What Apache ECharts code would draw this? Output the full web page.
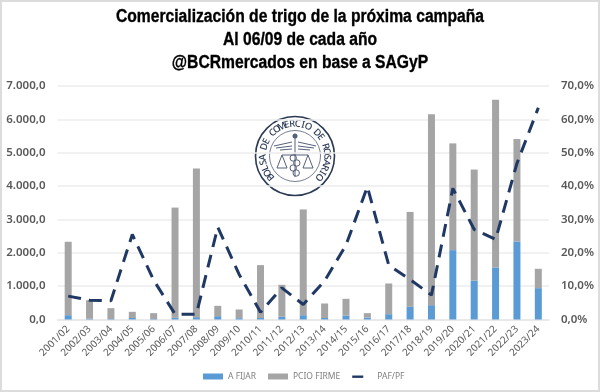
<!DOCTYPE html>
<html><head><meta charset="utf-8">
<style>html,body{margin:0;padding:0;background:#fff}#c{width:600px;height:392px}</style>
<script src="https://cdn.jsdelivr.net/npm/echarts@6/dist/echarts.min.js"></script>
</head><body><div id="c"></div>
<script>
const categories=["2001/02","2002/03","2003/04","2004/05","2005/06","2006/07","2007/08","2008/09","2009/10","2010/11","2011/12","2012/13","2013/14","2014/15","2015/16","2016/17","2017/18","2018/19","2019/20","2020/21","2021/22","2022/23","2023/24"];
const aFijar=[130,20,15,45,15,50,70,100,40,45,85,130,45,120,60,160,380,430,2080,1170,1560,2340,940];
const pcioFirme=[2200,560,325,185,175,3305,4455,310,260,1585,955,3170,435,500,130,920,2845,5720,3200,3325,5030,3070,580];
const pafPf=[7.0,5.8,5.6,25.5,11.8,1.6,1.6,27.7,13.5,2.2,9.5,4.5,11.6,22.3,39.8,16.3,12.0,7.3,39.3,27.0,24.0,46.8,63.5];
const titleLines=["Comercialización de trigo de la próxima campaña","Al 06/09 de cada año","@BCRmercados en base a SAGyP"];
const sealText="BOLSA DE COMERCIO DE ROSARIO";

const navy="#1F3864", tick="#595959", font="'Noto Sans',sans-serif";
const seal=[];
const cx=295,cy=156;
seal.push({type:'circle',shape:{cx,cy,r:39.5},style:{fill:'#fff',stroke:'#2b3a55',lineWidth:1.6},silent:true});
seal.push({type:'circle',shape:{cx,cy,r:25.5},style:{fill:'none',stroke:'#55607a',lineWidth:.8},silent:true});
[...sealText].forEach((ch,i)=>{
  const a=(-131+262*i/(sealText.length-1))*Math.PI/180;
  seal.push({type:'text',x:cx+32*Math.sin(a),y:cy-32*Math.cos(a),rotation:-a,silent:true,
    style:{text:ch,fill:'#2b3a55',font:"500 9.5px 'Noto Sans',sans-serif",align:'center',verticalAlign:'middle'}});
});
[[cx-21,cy-10,cx-3,cy-14],[cx+21,cy-10,cx+3,cy-14],[cx-19,cy-8,cx-3,cy-10],[cx+19,cy-8,cx+3,cy-10],[cx-15,cy-6,cx-3,cy-7],[cx+15,cy-6,cx+3,cy-7],[cx,cy-20,cx,cy+21],
 [cx-13,cy-1,cx+13,cy-1],[cx-13,cy-1,cx-18,cy+12],[cx-13,cy-1,cx-8,cy+12],[cx+13,cy-1,cx+18,cy+12],[cx+13,cy-1,cx+8,cy+12],
 [cx-18,cy+12,cx-8,cy+12],[cx+18,cy+12,cx+8,cy+12]].forEach(l=>{
  seal.push({type:'line',shape:{x1:l[0],y1:l[1],x2:l[2],y2:l[3]},style:{stroke:'#55607a',lineWidth:1},silent:true});
});
[[-3,2],[3,7],[-3,12],[2,17]].forEach(p=>seal.push({type:'circle',shape:{cx:cx+p[0]*.6,cy:cy+p[1],r:3.2},style:{fill:'none',stroke:'#55607a',lineWidth:1},silent:true}));
seal.push({type:'circle',shape:{cx,cy:cy-20,r:2.5},style:{fill:'#55607a'},silent:true});

const frame={type:'rect',shape:{x:1,y:1,width:598,height:390},style:{fill:'none',stroke:'#dcdcdc',lineWidth:2},silent:true,z:100};
const titleY=[17.5,40.5,63];
const titleEls=titleLines.map((t,i)=>({type:'text',x:300,y:titleY[i],scaleX:.87,silent:true,z:50,
  style:{text:t,fill:'#000',stroke:'#000',lineWidth:.35,align:'center',verticalAlign:'middle',
    font:"bold 18px 'Liberation Sans',sans-serif"}}));

const chart=echarts.init(document.getElementById('c'),null,{renderer:'canvas'});
chart.setOption({
  animation:false,
  backgroundColor:'#fff',
  legend:{top:372,left:203,padding:0,itemWidth:20,itemHeight:6,itemGap:12,selectedMode:false,
    textStyle:{fontFamily:font,fontSize:8.5,color:'#7f7f7f'},
    data:[{name:'A FIJAR',icon:'rect'},{name:'PCIO FIRME',icon:'rect'},
      {name:'PAF/PF',icon:'path://M0 0L0 0M0 2H11V4.4H0ZM20 6L20 6'}]},
  grid:{left:57.5,right:51,top:86,bottom:72.5},
  graphic:[frame,...titleEls,...seal],
  xAxis:{type:'category',data:categories,
    axisLine:{show:true,lineStyle:{color:'#e6e6e6',width:1.5}},axisTick:{show:false},
    axisLabel:{rotate:45,interval:0,margin:8,fontFamily:font,fontSize:10,color:tick}},
  yAxis:[
    {type:'value',min:0,max:7000,interval:1000,
     axisLine:{show:false},axisTick:{show:false},
     splitLine:{lineStyle:{color:'#ececec',width:1.5}},
     axisLabel:{margin:12,fontFamily:font,fontSize:11.5,fontWeight:600,color:tick,
       formatter:v=>(v>=1000?Math.floor(v/1000)+'.000':'0')+',0'}},
    {type:'value',min:0,max:70,interval:10,position:'right',
     axisLine:{show:false},axisTick:{show:false},splitLine:{show:false},
     axisLabel:{margin:12,fontFamily:font,fontSize:11.5,fontWeight:600,color:tick,
       formatter:v=>v.toFixed(1).replace('.',',')+'%'}}
  ],
  series:[
    {name:'A FIJAR',type:'bar',stack:'t',data:aFijar,barWidth:7,itemStyle:{color:'#5B9BD5'}},
    {name:'PCIO FIRME',type:'bar',stack:'t',data:pcioFirme,barWidth:7,itemStyle:{color:'#A5A5A5'}},
    {name:'PAF/PF',type:'line',yAxisIndex:1,data:pafPf,showSymbol:false,symbol:'none',smooth:false,
     itemStyle:{color:navy},lineStyle:{color:navy,width:3,type:[13,8]},z:5}
  ]
});
</script></body></html>
